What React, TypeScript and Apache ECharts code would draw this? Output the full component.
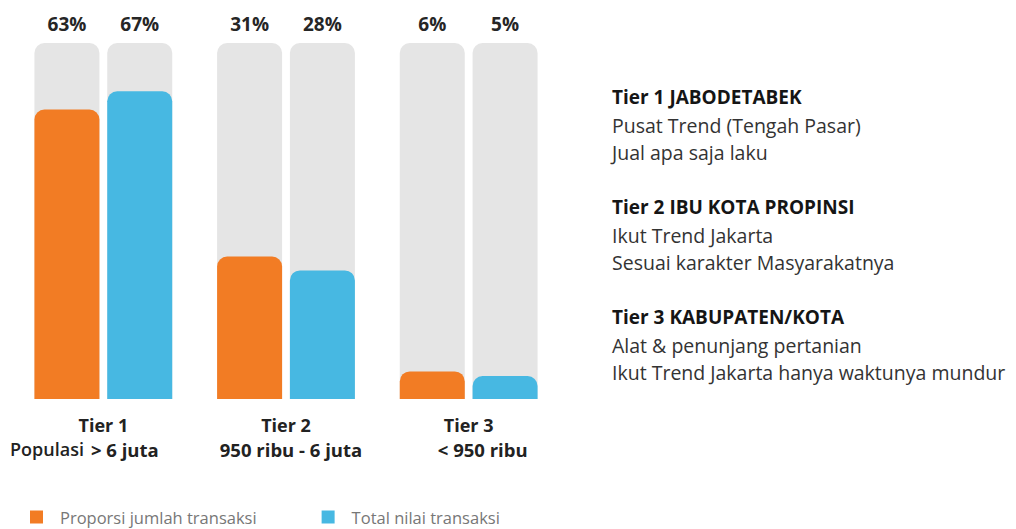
import React, { useEffect, useRef } from "react";
import * as echarts from "echarts";

const categories = ["Tier 1", "Tier 2", "Tier 3"];
const subLabels = ["> 6 juta", "950 ribu - 6 juta", "< 950 ribu"];
const proporsi = [63, 31, 6];
const totalNilai = [67, 28, 5];
const seriesNames = ["Proporsi jumlah transaksi", "Total nilai transaksi"];
const axisMax = 77.5;
const notes = [
  { head: "Tier 1 JABODETABEK", lines: ["Pusat Trend (Tengah Pasar)", "Jual apa saja laku"] },
  { head: "Tier 2 IBU KOTA PROPINSI", lines: ["Ikut Trend Jakarta", "Sesuai karakter Masyarakatnya"] },
  { head: "Tier 3 KABUPATEN/KOTA", lines: ["Alat & penunjang pertanian", "Ikut Trend Jakarta hanya waktunya mundur"] },
];

const FONT = "'Open Sans', 'Noto Sans', sans-serif";
const ORANGE = "#f27c24";
const BLUE = "#47b8e2";
const GRAY = "#e5e5e5";

export default function App() {
  const ref = useRef<HTMLDivElement>(null);
  useEffect(() => {
    if (!ref.current) return;
    const chart = echarts.init(ref.current, undefined, { renderer: "svg" });
    const noteTexts: any[] = [];
    let y = 97;
    notes.forEach((n) => {
      noteTexts.push({
        type: "text", x: 612, y,
        style: { text: n.head, fontFamily: FONT, fontSize: 19, fontWeight: "bold", fill: "#151515", verticalAlign: "middle" },
      });
      y += 28;
      n.lines.forEach((l) => {
        noteTexts.push({
          type: "text", x: 612, y,
          style: { text: l, fontFamily: FONT, fontSize: 19.5, fill: "#333", verticalAlign: "middle" },
        });
        y += 27.5;
      });
      y += 27;
    });
    const labelSeries = (vals: number[]) => ({
      type: "bar",
      xAxisIndex: 1,
      barWidth: 65,
      barGap: "12%",
      silent: true,
      itemStyle: { color: "transparent" },
      data: vals.map(() => axisMax),
      label: {
        show: true,
        position: "top",
        distance: 9,
        formatter: (p: any) => vals[p.dataIndex] + "%",
        fontFamily: FONT,
        fontSize: 19,
        lineHeight: 20,
        fontWeight: "bold",
        color: "#262626",
      },
    });
    const subStyle = { fontFamily: FONT, fontSize: 18.5, fontWeight: "bold", color: "#222", lineHeight: 25 };
    chart.setOption({
      animation: false,
      grid: { left: 12, right: 456, top: 43, bottom: 130 },
      legend: {
        data: seriesNames,
        left: 30,
        top: 507,
        padding: 0,
        icon: "rect",
        itemWidth: 13,
        itemHeight: 13,
        itemGap: 65,
        textStyle: { fontFamily: FONT, fontSize: 16.5, lineHeight: 20, color: "#777", padding: [0, 0, 0, 12] },
      },
      xAxis: [
        {
          type: "category",
          data: categories,
          axisLine: { show: false },
          axisTick: { show: false },
          axisLabel: {
            margin: 13,
            formatter: (v: string, i: number) =>
              "{t|" + v + "}\n{s" + i + "|" + subLabels[i] + "}",
            rich: {
              t: { fontFamily: FONT, fontSize: 18, fontWeight: "bold", color: "#222", lineHeight: 25 },
              s0: { ...subStyle, padding: [0, 0, 0, 43] },
              s1: { ...subStyle, padding: [0, 0, 0, 10] },
              s2: { ...subStyle, padding: [0, 0, 0, 28] },
            },
          },
        },
        { type: "category", data: categories, show: false },
      ],
      yAxis: { type: "value", min: 0, max: axisMax, show: false, splitLine: { show: false } },
      graphic: [
        {
          type: "text", x: 10, y: 449,
          style: { text: "Populasi", fontFamily: FONT, fontSize: 18, fontWeight: 600, fill: "#222", verticalAlign: "middle" },
        },
        ...noteTexts,
      ],
      series: [
        {
          name: seriesNames[0],
          type: "bar",
          barWidth: 65,
          barGap: "12%",
          data: proporsi,
          itemStyle: { color: ORANGE, borderRadius: [10, 10, 0, 0] },
          showBackground: true,
          backgroundStyle: { color: GRAY, borderRadius: [10, 10, 0, 0] },
        },
        {
          name: seriesNames[1],
          type: "bar",
          barWidth: 65,
          barGap: "12%",
          data: totalNilai,
          itemStyle: { color: BLUE, borderRadius: [10, 10, 0, 0] },
          showBackground: true,
          backgroundStyle: { color: GRAY, borderRadius: [10, 10, 0, 0] },
        },
        labelSeries(proporsi),
        labelSeries(totalNilai),
      ],
    });
    return () => chart.dispose();
  }, []);
  return (
    <div
      ref={ref}
      style={{ position: "absolute", left: 0, top: 0, width: 1016, height: 529, background: "#fff" }}
    />
  );
}
